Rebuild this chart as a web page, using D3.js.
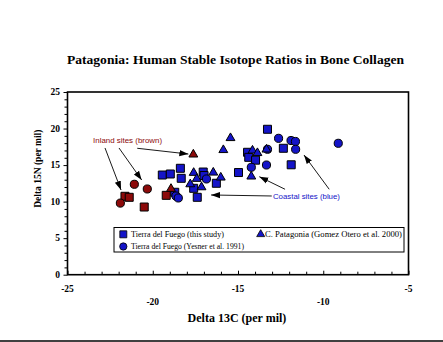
<!DOCTYPE html>
<html>
<head>
<meta charset="utf-8">
<script src="https://cdn.jsdelivr.net/npm/d3@7"></script>
<style>
  html, body { margin: 0; padding: 0; background: #fff; }
  svg { display: block; }
</style>
</head>
<body>
<svg id="chart" width="443" height="342"></svg>
<script>
// ---------------- DATA ----------------
const titleText = "Patagonia: Human Stable Isotope Ratios in Bone Collagen";
const xLabelText = "Delta 13C (per mil)";
const yLabelText = "Delta 15N (per mil)";
const xTickValues = [-25, -20, -15, -10, -5];
const yTickValues = [0, 5, 10, 15, 20, 25];

// Tierra del Fuego (this study) - squares
const thisStudyInland = [[-21.63,10.73],[-21.38,10.59],[-20.5,9.26],[-19.21,10.86]];
const thisStudyCoastal = [[-19.44,13.64],[-18.97,13.78],[-18.38,14.56],[-18.33,13.19],[-18.71,11.28],
  [-17.6,11.82],[-17.39,10.59],[-17.04,14.05],[-16.99,13.57],[-16.27,12.51],[-14.97,13.98],
  [-13.27,19.9],[-14.44,16.75],[-14.37,16.06],[-13.97,15.67],[-12.34,17.3],[-11.88,15.04]];

// Tierra del Fuego (Yesner et al. 1991) - circles
const yesnerInland = [[-21.9,9.8],[-21.08,12.37],[-20.32,11.73]];
const yesnerCoastal = [[-18.64,10.77],[-18.5,10.5],[-16.85,13.1],[-14.22,14.7],[-13.33,15.01],
  [-13.27,17.16],[-12.62,18.66],[-11.89,18.36],[-11.63,18.23],[-11.62,17.16],[-9.12,17.98]];

// C. Patagonia (Gomez Otero et al. 2000) - triangles
const patagoniaInland = [[-18.93,11.82],[-17.62,16.52]];
const patagoniaCoastal = [[-17.8,12.45],[-17.6,14.01],[-17.42,13.19],[-17.14,12.04],[-16.45,14.05],
  [-16.01,13.37],[-15.86,17.13],[-15.44,18.77],[-14.15,17.06],[-13.86,16.72],[-13.33,17.2],[-14.22,13.51]];

const legendLabels = ["Tierra del Fuego (this study)", "Tierra del Fuego (Yesner et al. 1991)", "C. Patagonia (Gomez Otero et al. 2000)"];

// annotations (data coords)
const inlandLabel = {text: "Inland sites (brown)", x: -23.5, y: 18.06};
const inlandArrows = [[-22.8,17.34,-21.86,11.59],[-21.98,17.34,-20.65,12.96],[-20.91,17.3,-17.91,16.51]];
const coastalLabel = {text: "Coastal sites (blue)", x: -12.95, y: 10.4};
const coastalArrows = [[-13.02,10.77,-16.58,10.91],[-12.24,11.69,-13.75,13.41],[-9.65,11.69,-11.13,16.38]];

// ---------------- STYLE ----------------
const blue = "#1414c8", brown = "#8c0a0a";
const serif = "'Liberation Serif','Times New Roman',serif";
const sans = "'Liberation Sans',Arial,sans-serif";

const svg = d3.select("#chart");
svg.append("rect").attr("width",443).attr("height",342).attr("fill","#fff");

const L = 67.5, R = 408.5, T = 92, B = 274.7;
const x = d3.scaleLinear().domain([-25,-5]).range([L,R]);
const y = d3.scaleLinear().domain([0,25]).range([B,T]);

// title
svg.append("text").attr("x",235.5).attr("y",64).attr("text-anchor","middle")
  .attr("font-family",serif).attr("font-weight","bold").attr("font-size",13.5)
  .attr("textLength",337).attr("lengthAdjust","spacingAndGlyphs")
  .text(titleText);

// axes
const xAxis = d3.axisBottom(x).tickValues(d3.range(-25,-4,1)).tickSizeInner(-3).tickSizeOuter(0).tickFormat("");
const gx = svg.append("g").attr("transform",`translate(0,${B})`).call(xAxis);
gx.selectAll(".tick line").attr("y2", d => (d % 5 === 0 ? -4 : -3)).attr("stroke","#000");
gx.select(".domain").remove();

const yAxis = d3.axisLeft(y).tickValues(d3.range(0,26,1)).tickSizeInner(3).tickSizeOuter(0).tickFormat("");
const gy = svg.append("g").attr("transform",`translate(${L},0)`).call(yAxis);
gy.selectAll(".tick line").attr("x2", d => (d % 5 === 0 ? -4 : -3)).attr("stroke","#000");
gy.select(".domain").remove();

// frame
svg.append("rect").attr("x",L).attr("y",T).attr("width",R-L).attr("height",B-T)
  .attr("fill","none").attr("stroke","#000").attr("stroke-width",1.6);

// tick labels
svg.append("g").selectAll("text").data(xTickValues).join("text")
  .attr("x", d => x(d)).attr("y", (d,i) => i % 2 === 0 ? 292 : 305)
  .attr("text-anchor","middle").attr("font-family",serif).attr("font-weight","bold").attr("font-size",9.5)
  .text(d => d);
svg.append("g").selectAll("text").data(yTickValues).join("text")
  .attr("x", 60).attr("y", d => y(d) + 3.3)
  .attr("text-anchor","end").attr("font-family",serif).attr("font-weight","bold").attr("font-size",9.5)
  .text(d => d);

// axis labels
svg.append("text").attr("x",237).attr("y",322).attr("text-anchor","middle")
  .attr("font-family",serif).attr("font-weight","bold").attr("font-size",12)
  .text(xLabelText);
svg.append("text").attr("transform","translate(40.5,168.7) rotate(-90)").attr("text-anchor","middle")
  .attr("font-family",serif).attr("font-weight","bold").attr("font-size",9.5)
  .text(yLabelText);

// markers
const sq = d3.symbol().type(d3.symbolSquare).size(64);
const ci = d3.symbol().type(d3.symbolCircle).size(52);
const tri = d3.symbol().type(d3.symbolTriangle).size(34);

function drawSeries(data, sym, color, dy) {
  svg.append("g").selectAll("path").data(data).join("path")
    .attr("d", sym)
    .attr("transform", d => `translate(${x(d[0])},${y(d[1]) + (dy||0)})`)
    .attr("fill", color).attr("stroke","#000").attr("stroke-width",1);
}
drawSeries(thisStudyCoastal, sq, blue);
drawSeries(thisStudyInland, sq, brown);
drawSeries(yesnerCoastal, ci, blue);
drawSeries(yesnerInland, ci, brown);
drawSeries(patagoniaCoastal, tri, blue, 0.5);
drawSeries(patagoniaInland, tri, brown, 0.5);

// arrows
const defs = svg.append("defs");
defs.append("marker").attr("id","arr").attr("viewBox","0 0 10 10").attr("refX",10).attr("refY",5)
  .attr("markerWidth",9).attr("markerHeight",9).attr("markerUnits","userSpaceOnUse").attr("orient","auto")
  .append("path").attr("d","M0,1.5 L10,5 L0,8.5 Z").attr("fill","#000");

function drawArrows(arr) {
  svg.append("g").selectAll("line").data(arr).join("line")
    .attr("x1", d => x(d[0])).attr("y1", d => y(d[1]))
    .attr("x2", d => x(d[2])).attr("y2", d => y(d[3]))
    .attr("stroke","#000").attr("stroke-width",0.9).attr("marker-end","url(#arr)");
}
drawArrows(inlandArrows);
drawArrows(coastalArrows);

svg.append("text").attr("x", x(inlandLabel.x)).attr("y", y(inlandLabel.y))
  .attr("font-family",sans).attr("font-size",7.5).attr("fill",brown)
  .attr("textLength",69).attr("lengthAdjust","spacingAndGlyphs").text(inlandLabel.text);
svg.append("text").attr("x", x(coastalLabel.x)).attr("y", y(coastalLabel.y))
  .attr("font-family",sans).attr("font-size",7.5).attr("fill",blue)
  .attr("textLength",67).attr("lengthAdjust","spacingAndGlyphs").text(coastalLabel.text);

// legend
const lg = svg.append("g");
lg.append("rect").attr("x",114).attr("y",227.5).attr("width",290).attr("height",24.5)
  .attr("fill","#fff").attr("stroke","#000").attr("stroke-width",1);
const legendItems = [
  {sym: d3.symbol().type(d3.symbolSquare).size(49), mx: 123.3, my: 234.3, tx: 131, ty: 237.2, len: 93},
  {sym: d3.symbol().type(d3.symbolCircle).size(42), mx: 123.3, my: 246.5, tx: 131, ty: 249.2, len: 113},
  {sym: d3.symbol().type(d3.symbolTriangle).size(28), mx: 260.7, my: 234.3, tx: 265, ty: 237.2, len: 137}
];
legendItems.forEach((it, i) => {
  lg.append("path").attr("d", it.sym).attr("transform",`translate(${it.mx},${it.my})`)
    .attr("fill", blue).attr("stroke","#000").attr("stroke-width",0.8);
  lg.append("text").attr("x", it.tx).attr("y", it.ty)
    .attr("font-family",serif).attr("font-size",7.5)
    .attr("textLength", it.len).attr("lengthAdjust","spacingAndGlyphs")
    .text(legendLabels[i]);
});

// bottom border line
svg.append("line").attr("x1",0).attr("x2",443).attr("y1",341).attr("y2",341)
  .attr("stroke","#000").attr("stroke-width",1.5);
</script>
</body>
</html>
